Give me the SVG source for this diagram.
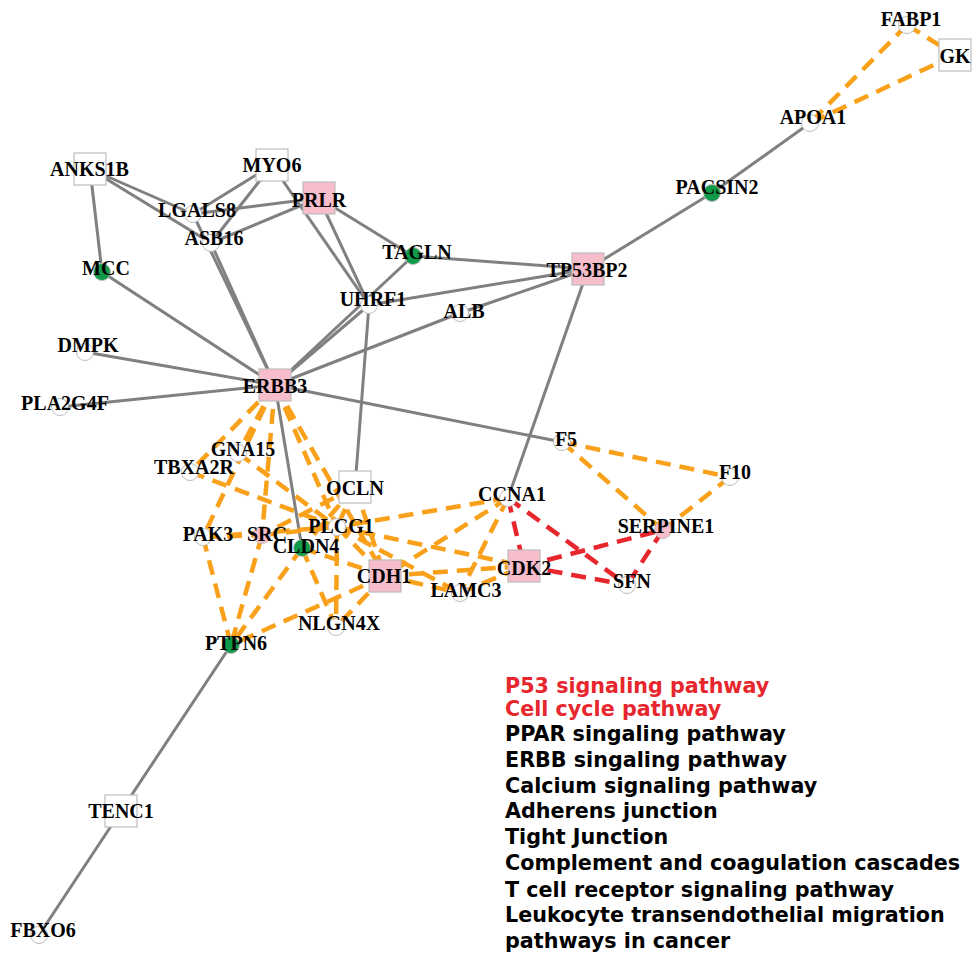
<svg xmlns="http://www.w3.org/2000/svg" width="972" height="953" viewBox="0 0 972 953">
<style>
.g{stroke:#808080;stroke-width:3;fill:none}
.o{stroke:#F9A11B;stroke-width:4.5;stroke-dasharray:15 9;fill:none}
.r{stroke:#E8262E;stroke-width:4.5;stroke-dasharray:15 9;fill:none}
.cw{fill:#fff;stroke:#bdbdbd;stroke-width:1}
.cg{fill:#0E9A48;stroke:#bdbdbd;stroke-width:1}
.cp{fill:#F7BDCB;stroke:#bdbdbd;stroke-width:1}
.sw{fill:#fff;stroke:#bdbdbd;stroke-width:1.2}
.sp{fill:#F7BDCB;stroke:#bdbdbd;stroke-width:1.2}
.t{font-family:"Liberation Serif","Times New Roman",serif;font-weight:bold;font-size:20px;fill:#000;text-anchor:middle}
.lg{font-family:"DejaVu Sans",Verdana,sans-serif;font-weight:bold;font-size:20.7px}
</style>
<rect width="972" height="953" fill="#fff"/>
<g id="edges">
<line class="g" x1="90" y1="169" x2="102" y2="272"/>
<line class="g" x1="90" y1="169" x2="193" y2="214"/>
<line class="g" x1="90" y1="169" x2="211" y2="243"/>
<line class="g" x1="272" y1="165" x2="193" y2="214"/>
<line class="g" x1="272" y1="165" x2="211" y2="243"/>
<line class="g" x1="272" y1="165" x2="369" y2="305"/>
<line class="g" x1="319" y1="198" x2="193" y2="214"/>
<line class="g" x1="319" y1="198" x2="211" y2="243"/>
<line class="g" x1="319" y1="198" x2="369" y2="305"/>
<line class="g" x1="319" y1="198" x2="413" y2="256"/>
<line class="g" x1="193" y1="214" x2="275" y2="385"/>
<line class="g" x1="211" y1="243" x2="275" y2="385"/>
<line class="g" x1="102" y1="272" x2="275" y2="385"/>
<line class="g" x1="85" y1="352" x2="275" y2="385"/>
<line class="g" x1="60" y1="407" x2="275" y2="385"/>
<line class="g" x1="369" y1="305" x2="275" y2="385"/>
<line class="g" x1="413" y1="256" x2="275" y2="385"/>
<line class="g" x1="413" y1="256" x2="588" y2="269"/>
<line class="g" x1="369" y1="305" x2="588" y2="269"/>
<line class="g" x1="275" y1="385" x2="460" y2="313"/>
<line class="g" x1="460" y1="313" x2="588" y2="269"/>
<line class="g" x1="588" y1="269" x2="712" y2="193" stroke-width="5"/>
<line class="g" x1="712" y1="193" x2="810" y2="123"/>
<line class="g" x1="588" y1="269" x2="508" y2="498"/>
<line class="g" x1="275" y1="385" x2="562" y2="442"/>
<line class="g" x1="355" y1="487" x2="369" y2="305"/>
<line class="g" x1="275" y1="385" x2="302" y2="548"/>
<line class="g" x1="231" y1="645" x2="121" y2="811"/>
<line class="g" x1="121" y1="811" x2="39" y2="935"/>
<line class="o" x1="275" y1="385" x2="190" y2="472"/>
<line class="o" x1="275" y1="385" x2="238" y2="453"/>
<line class="o" x1="275" y1="385" x2="262" y2="535"/>
<line class="o" x1="275" y1="385" x2="337" y2="527"/>
<line class="o" x1="275" y1="385" x2="385" y2="576"/>
<line class="o" x1="275" y1="385" x2="203" y2="537"/>
<line class="o" x1="190" y1="472" x2="337" y2="527"/>
<line class="o" x1="238" y1="453" x2="337" y2="527"/>
<line class="o" x1="203" y1="537" x2="262" y2="535"/>
<line class="o" x1="203" y1="537" x2="337" y2="527"/>
<line class="o" x1="262" y1="535" x2="337" y2="527"/>
<line class="o" x1="203" y1="537" x2="231" y2="645"/>
<line class="o" x1="262" y1="535" x2="231" y2="645"/>
<line class="o" x1="302" y1="548" x2="231" y2="645"/>
<line class="o" x1="385" y1="576" x2="231" y2="645"/>
<line class="o" x1="355" y1="487" x2="302" y2="548"/>
<line class="o" x1="355" y1="487" x2="262" y2="535"/>
<line class="o" x1="355" y1="487" x2="337" y2="527"/>
<line class="o" x1="355" y1="487" x2="385" y2="576"/>
<line class="o" x1="302" y1="548" x2="385" y2="576"/>
<line class="o" x1="302" y1="548" x2="336" y2="627"/>
<line class="o" x1="337" y1="527" x2="336" y2="627"/>
<line class="o" x1="385" y1="576" x2="336" y2="627"/>
<line class="o" x1="337" y1="527" x2="385" y2="576"/>
<line class="o" x1="508" y1="498" x2="337" y2="527"/>
<line class="o" x1="508" y1="498" x2="385" y2="576"/>
<line class="o" x1="508" y1="498" x2="460" y2="593"/>
<line class="o" x1="337" y1="527" x2="524" y2="566"/>
<line class="o" x1="337" y1="527" x2="460" y2="593"/>
<line class="o" x1="385" y1="576" x2="524" y2="566"/>
<line class="o" x1="460" y1="593" x2="524" y2="566"/>
<line class="o" x1="385" y1="576" x2="460" y2="593"/>
<line class="o" x1="562" y1="442" x2="730" y2="477"/>
<line class="o" x1="562" y1="442" x2="663" y2="530"/>
<line class="o" x1="730" y1="477" x2="663" y2="530"/>
<line class="o" x1="907" y1="25" x2="810" y2="123"/>
<line class="o" x1="955" y1="55" x2="810" y2="123"/>
<line class="o" x1="907" y1="25" x2="955" y2="55"/>
<line class="r" x1="508" y1="498" x2="524" y2="566"/>
<line class="r" x1="508" y1="498" x2="627" y2="585"/>
<line class="r" x1="524" y1="566" x2="627" y2="585"/>
<line class="r" x1="524" y1="566" x2="663" y2="530"/>
<line class="r" x1="663" y1="530" x2="627" y2="585"/>
</g>
<g id="node-FABP1"><circle class="cw" cx="907" cy="25" r="8.5"/><text class="t" x="911" y="26">FABP1</text></g>
<g id="node-GK"><rect class="sw" x="939" y="39" width="32" height="32"/><text class="t" x="955" y="63">GK</text></g>
<g id="node-APOA1"><circle class="cw" cx="810" cy="123" r="8.5"/><text class="t" x="813" y="124">APOA1</text></g>
<g id="node-PACSIN2"><circle class="cg" cx="712" cy="193" r="8.5"/><text class="t" x="717" y="194">PACSIN2</text></g>
<g id="node-ANKS1B"><rect class="sw" x="74" y="153" width="32" height="32"/><text class="t" x="89.5" y="176">ANKS1B</text></g>
<g id="node-MYO6"><rect class="sw" x="256" y="149" width="32" height="32"/><text class="t" x="272" y="172">MYO6</text></g>
<g id="node-PRLR"><rect class="sp" x="303" y="182" width="32" height="32"/><text class="t" x="319" y="207">PRLR</text></g>
<g id="node-LGALS8"><circle class="cw" cx="193" cy="214" r="8.5"/><text class="t" x="197" y="217">LGALS8</text></g>
<g id="node-ASB16"><circle class="cw" cx="211" cy="243" r="8.5"/><text class="t" x="214" y="245">ASB16</text></g>
<g id="node-MCC"><circle class="cg" cx="102" cy="272" r="8.5"/><text class="t" x="106" y="275">MCC</text></g>
<g id="node-TAGLN"><circle class="cg" cx="413" cy="256" r="8.5"/><text class="t" x="417" y="259">TAGLN</text></g>
<g id="node-TP53BP2"><rect class="sp" x="572" y="253" width="32" height="32"/><text class="t" x="587" y="277">TP53BP2</text></g>
<g id="node-UHRF1"><circle class="cw" cx="369" cy="305" r="8.5"/><text class="t" x="373" y="306">UHRF1</text></g>
<g id="node-ALB"><circle class="cw" cx="460" cy="313" r="8.5"/><text class="t" x="464" y="318">ALB</text></g>
<g id="node-DMPK"><circle class="cw" cx="85" cy="352" r="8.5"/><text class="t" x="88" y="352">DMPK</text></g>
<g id="node-PLA2G4F"><circle class="cw" cx="60" cy="407" r="8.5"/><text class="t" x="65" y="410">PLA2G4F</text></g>
<g id="node-ERBB3"><rect class="sp" x="259" y="369" width="32" height="32"/><text class="t" x="275" y="393">ERBB3</text></g>
<g id="node-F5"><circle class="cw" cx="562" cy="442" r="8.5"/><text class="t" x="566" y="446">F5</text></g>
<g id="node-GNA15"><circle class="cw" cx="238" cy="453" r="8.5"/><text class="t" x="243" y="456">GNA15</text></g>
<g id="node-TBXA2R"><circle class="cw" cx="190" cy="472" r="8.5"/><text class="t" x="194" y="474">TBXA2R</text></g>
<g id="node-F10"><circle class="cw" cx="730" cy="477" r="8.5"/><text class="t" x="735" y="479">F10</text></g>
<g id="node-OCLN"><rect class="sw" x="339" y="471" width="32" height="32"/><text class="t" x="355" y="495">OCLN</text></g>
<g id="node-CCNA1"><circle class="cw" cx="508" cy="498" r="8.5"/><text class="t" x="512" y="501">CCNA1</text></g>
<g id="node-SERPINE1"><circle class="cp" cx="663" cy="530" r="8.5"/><text class="t" x="666" y="533">SERPINE1</text></g>
<g id="node-PAK3"><circle class="cw" cx="203" cy="537" r="8.5"/><text class="t" x="208" y="541">PAK3</text></g>
<g id="node-SRC"><circle class="cp" cx="262" cy="535" r="8.5"/><text class="t" x="267" y="541">SRC</text></g>
<g id="node-PLCG1"><circle class="cw" cx="337" cy="527" r="8.5"/><text class="t" x="341" y="533">PLCG1</text></g>
<g id="node-CLDN4"><circle class="cg" cx="302" cy="548" r="8.5"/><text class="t" x="306" y="553">CLDN4</text></g>
<g id="node-CDK2"><rect class="sp" x="508" y="550" width="32" height="32"/><text class="t" x="524" y="575">CDK2</text></g>
<g id="node-CDH1"><rect class="sp" x="369" y="560" width="32" height="32"/><text class="t" x="384" y="583">CDH1</text></g>
<g id="node-SFN"><circle class="cw" cx="627" cy="585" r="8.5"/><text class="t" x="632" y="588">SFN</text></g>
<g id="node-LAMC3"><circle class="cw" cx="460" cy="593" r="8.5"/><text class="t" x="466" y="597">LAMC3</text></g>
<g id="node-NLGN4X"><circle class="cw" cx="336" cy="627" r="8.5"/><text class="t" x="339" y="630">NLGN4X</text></g>
<g id="node-PTPN6"><circle class="cg" cx="231" cy="645" r="8.5"/><text class="t" x="236" y="650">PTPN6</text></g>
<g id="node-TENC1"><rect class="sw" x="105" y="795" width="32" height="32"/><text class="t" x="121" y="818">TENC1</text></g>
<g id="node-FBXO6"><circle class="cw" cx="39" cy="935" r="8.5"/><text class="t" x="43" y="937">FBXO6</text></g>
<g id="legend">
<text class="lg" x="505" y="693" fill="#E8262E">P53 signaling pathway</text>
<text class="lg" x="505" y="716" fill="#E8262E">Cell cycle pathway</text>
<text class="lg" x="505" y="741" fill="#000">PPAR singaling pathway</text>
<text class="lg" x="505" y="767" fill="#000">ERBB singaling pathway</text>
<text class="lg" x="505" y="793" fill="#000">Calcium signaling pathway</text>
<text class="lg" x="505" y="818" fill="#000">Adherens junction</text>
<text class="lg" x="505" y="844" fill="#000">Tight Junction</text>
<text class="lg" x="505" y="870" fill="#000">Complement and coagulation cascades</text>
<text class="lg" x="505" y="897" fill="#000">T cell receptor signaling pathway</text>
<text class="lg" x="505" y="922" fill="#000">Leukocyte transendothelial migration</text>
<text class="lg" x="505" y="948" fill="#000">pathways in cancer</text>
</g>
</svg>
